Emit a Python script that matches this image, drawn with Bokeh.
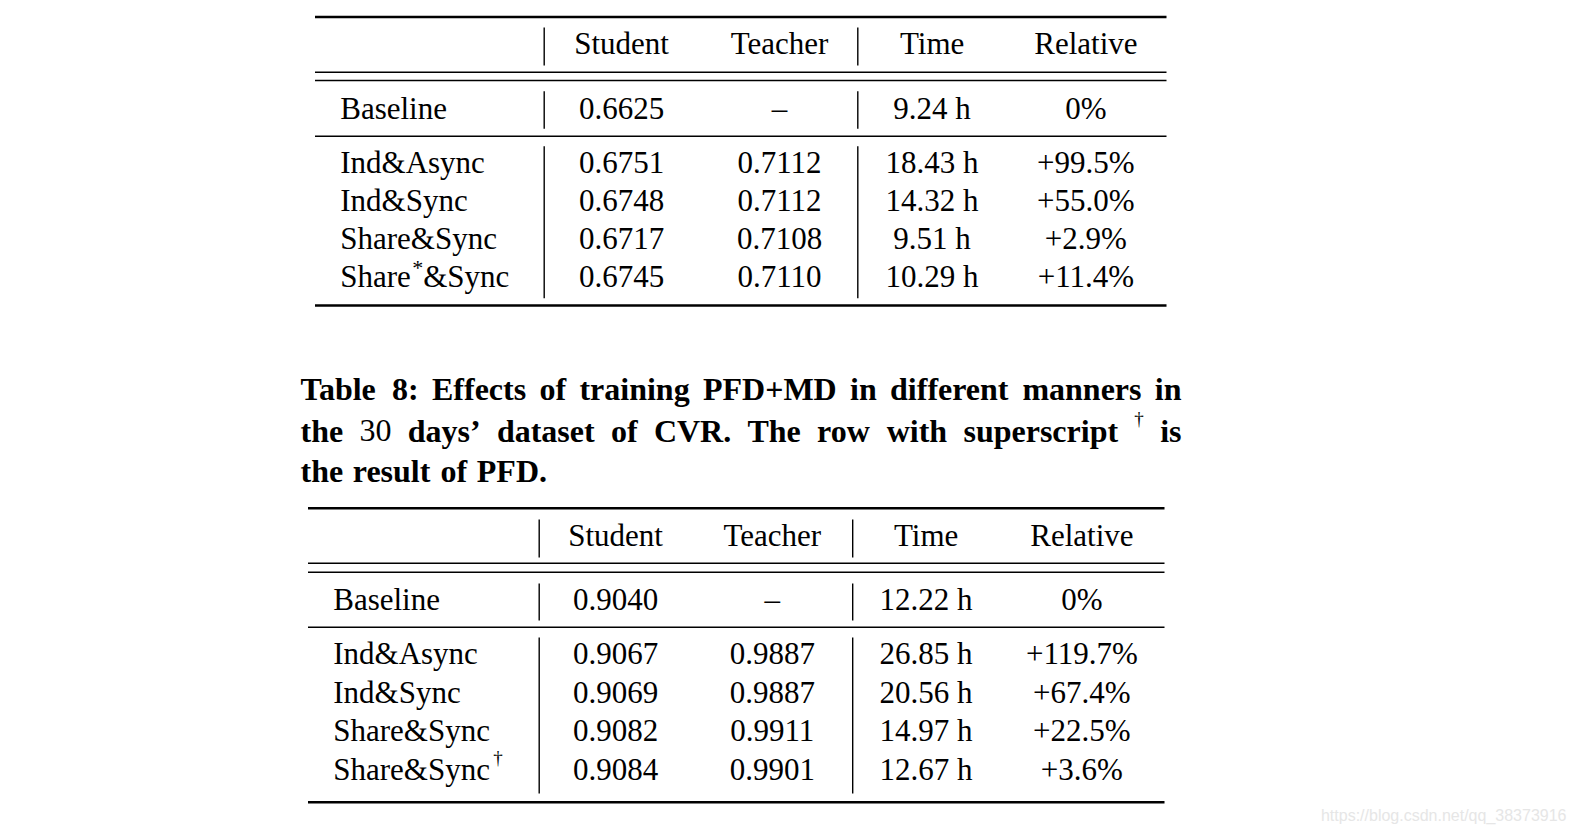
from bokeh.plotting import figure
from bokeh.models import ColumnDataSource, Range1d
from bokeh.core.properties import value
from bokeh.embed import file_html
from bokeh.resources import INLINE

# ---------------- data ----------------
headers = ["Student", "Teacher", "Time", "Relative"]

t1_labels = ["Baseline", "Ind&Async", "Ind&Sync", "Share&Sync", "Share*&Sync"]
t1_student = ["0.6625", "0.6751", "0.6748", "0.6717", "0.6745"]
t1_teacher = ["\u2013", "0.7112", "0.7112", "0.7108", "0.7110"]
t1_time = ["9.24 h", "18.43 h", "14.32 h", "9.51 h", "10.29 h"]
t1_rel = ["0%", "+99.5%", "+55.0%", "+2.9%", "+11.4%"]

t2_labels = ["Baseline", "Ind&Async", "Ind&Sync", "Share&Sync", "Share&Sync\u2020"]
t2_student = ["0.9040", "0.9067", "0.9069", "0.9082", "0.9084"]
t2_teacher = ["\u2013", "0.9887", "0.9887", "0.9911", "0.9901"]
t2_time = ["12.22 h", "26.85 h", "20.56 h", "14.97 h", "12.67 h"]
t2_rel = ["0%", "+119.7%", "+67.4%", "+22.5%", "+3.6%"]

caption_line1 = ["Table", "8:", "Effects", "of", "training", "PFD+MD", "in",
                 "different", "manners", "in"]
caption_line2 = ["the", "30", "days\u2019", "dataset", "of", "CVR.", "The", "row",
                 "with", "superscript", "\u2020", "is"]
caption_line3 = ["the", "result", "of", "PFD."]
watermark = "https://blog.csdn.net/qq_38373916"

# ---------------- layout ----------------
W, H = 1568, 830
FONT = value("Liberation Serif")
FS = "31px"
DY = -10  # baseline correction for the svg text renderer

p = figure(width=W, height=H, output_backend="svg", toolbar_location=None,
           x_range=Range1d(0, W), y_range=Range1d(H, 0),
           x_axis_location=None, y_axis_location=None, min_border=0)
p.grid.visible = False
p.outline_line_color = None
p.background_fill_color = "white"
p.border_fill_color = "white"


def txt(x, y, t, align="left", size=FS, style="normal", color="black", font=FONT):
    src = ColumnDataSource(dict(x=x, y=[v + DY for v in y], t=t))
    p.text(x="x", y="y", text="t", source=src, text_font=font, text_font_size=size,
           text_font_style=style, text_color=color, text_align=align,
           text_baseline="alphabetic")


def hseg(x0, x1, ys, lw):
    p.segment(x0=[x0] * len(ys), x1=[x1] * len(ys), y0=ys, y1=ys,
              line_color="black", line_width=lw)


def vseg(xs, y0, y1, lw=1.4):
    p.segment(x0=xs, x1=xs, y0=[y0] * len(xs), y1=[y1] * len(xs),
              line_color="black", line_width=lw)


def draw_table(L, labels, student, teacher, time, rel):
    hseg(L["x0"], L["x1"], [L["top"]], 2.6)
    hseg(L["x0"], L["x1"], L["dbl"], 1.4)
    hseg(L["x0"], L["x1"], [L["mid"]], 1.4)
    hseg(L["x0"], L["x1"], [L["bot"]], 2.6)
    for (a, b) in L["vspans"]:
        vseg(L["vx"], a, b)
    cols = L["cols"]
    txt(cols, [L["hy"]] * 4, headers, align="center")
    ys = L["rows"]
    plain_x, plain_y, plain_t = [], [], []
    for lab, y in zip(labels, ys):
        if "*" in lab:
            a, b = lab.split("*")
            plain_x += [L["lx"], L["lx"] + L["star_dx2"]]
            plain_y += [y, y]
            plain_t += [a, b]
            txt([L["lx"] + L["star_dx"]], [y - 9], ["*"], size="22px")
        elif lab.endswith("\u2020"):
            plain_x.append(L["lx"]); plain_y.append(y); plain_t.append(lab[:-1])
            txt([L["lx"] + L["dag_dx"]], [y - 12], ["\u2020"], size="19px")
        else:
            plain_x.append(L["lx"]); plain_y.append(y); plain_t.append(lab)
    txt(plain_x, plain_y, plain_t)
    for cx, vals in zip(cols, [student, teacher, time, rel]):
        txt([cx] * len(vals), ys, vals, align="center")


T1 = dict(x0=314.5, x1=1166, top=16.5, dbl=[71.7, 80], mid=135.7, bot=305,
          vx=[543.7, 857.3], vspans=[(27, 65), (90.7, 128.3), (145.7, 297.7)],
          cols=[621, 779, 931.6, 1085.4], hy=53, lx=339.7,
          rows=[117.5, 172, 210, 247.5, 285.7], star_dx=72, star_dx2=83, dag_dx=158)
T2 = dict(x0=307.5, x1=1164, top=507.7, dbl=[562.7, 571.7], mid=626.7, bot=801.7,
          vx=[538.7, 852.2], vspans=[(519, 557), (583, 620), (637, 793)],
          cols=[615, 771.8, 925.6, 1081.4], hy=545, lx=332.7,
          rows=[609.3, 663.3, 701.7, 740, 779.3], star_dx=72, star_dx2=83, dag_dx=160)

draw_table(T1, t1_labels, t1_student, t1_teacher, t1_time, t1_rel)
draw_table(T2, t2_labels, t2_student, t2_teacher, t2_time, t2_rel)

# ---------------- caption (justified) ----------------
# approximate advance widths (1/1000 em) of the serif bold / regular faces
BOLD_W = {"T": 667, "a": 500, "b": 556, "l": 278, "e": 444, "8": 500, ":": 333,
          "E": 667, "f": 333, "c": 444, "t": 333, "s": 389, "o": 500, "r": 444,
          "i": 278, "n": 556, "g": 500, "P": 611, "F": 611, "D": 722, "+": 570,
          "M": 944, "d": 556, "m": 833, "h": 556, "y": 500, "\u2019": 333,
          "C": 722, "V": 722, "R": 722, ".": 250, "w": 722, "u": 556, "p": 556}
REG_W = {"3": 500, "0": 500, "\u2020": 500}
CAP_PX = 32
SUP_PX = 19
CX0, CX1 = 300, 1181
cap_y = [398, 440, 480]


def word_w(wd, table, px):
    return sum(table.get(ch, 500) for ch in wd) * px / 1000.0


def justify(words, kinds):
    widths = []
    for wd, k in zip(words, kinds):
        if k == "b":
            widths.append(word_w(wd, BOLD_W, CAP_PX))
        elif k == "r":
            widths.append(word_w(wd, REG_W, CAP_PX))
        else:
            widths.append(word_w(wd, REG_W, SUP_PX))
    gap = (CX1 - CX0 - sum(widths)) / (len(words) - 1)
    xs, x = [], CX0
    for w_ in widths:
        xs.append(x)
        x += w_ + gap
    return xs


def draw_line(words, kinds, xs, y):
    for kind, style, size, dy in (("b", "bold", f"{CAP_PX}px", 0),
                                  ("r", "normal", f"{CAP_PX}px", 0),
                                  ("s", "normal", f"{SUP_PX}px", -12)):
        idx = [i for i, k in enumerate(kinds) if k == kind]
        if idx:
            txt([xs[i] for i in idx], [y + dy] * len(idx), [words[i] for i in idx],
                size=size, style=style)


kinds1 = ["b"] * len(caption_line1)
draw_line(caption_line1, kinds1, justify(caption_line1, kinds1), cap_y[0])

kinds2 = ["b", "r", "b", "b", "b", "b", "b", "b", "b", "b", "s", "b"]
draw_line(caption_line2, kinds2, justify(caption_line2, kinds2), cap_y[1])

kinds3 = ["b"] * len(caption_line3)
xs3, x = [], CX0
for wd in caption_line3:
    xs3.append(x)
    x += word_w(wd, BOLD_W, CAP_PX) + 0.3 * CAP_PX
draw_line(caption_line3, kinds3, xs3, cap_y[2])

# watermark
txt([1566], [825], [watermark], size="16px", color="#e6e6e6", align="right",
    font=value("Liberation Sans"))

open("out.html", "w").write(file_html(p, INLINE))
